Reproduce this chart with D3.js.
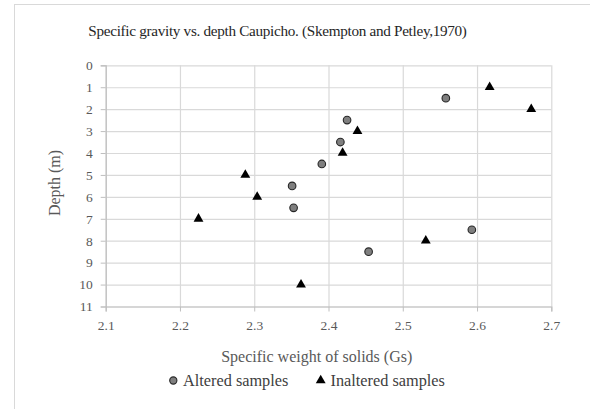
<!DOCTYPE html>
<html><head><meta charset="utf-8">
<script src="https://cdn.jsdelivr.net/npm/d3@7"></script>
<style>html,body{margin:0;padding:0;background:#fff;}svg{display:block;}</style>
</head><body>
<svg id="c" width="590" height="409"></svg>
<script>
const titleText = "Specific gravity vs. depth Caupicho. (Skempton and Petley,1970)";
const xTitle = "Specific weight of solids (Gs)";
const yTitle = "Depth (m)";
const seriesNames = ["Altered samples", "Inaltered samples"];
const xTicks = [2.1, 2.2, 2.3, 2.4, 2.5, 2.6, 2.7];
const yTicks = [0,1,2,3,4,5,6,7,8,9,10,11];
const alteredGs = [2.558, 2.425, 2.416, 2.391, 2.351, 2.353, 2.593, 2.454];
const alteredDepth = [1.5, 2.5, 3.5, 4.5, 5.5, 6.5, 7.5, 8.5];
const inalteredGs = [2.617, 2.673, 2.439, 2.419, 2.288, 2.304, 2.225, 2.531, 2.363];
const inalteredDepth = [1, 2, 3, 4, 5, 6, 7, 8, 10];

const svg = d3.select("#c");
const font = "Liberation Serif, DejaVu Serif, serif";
const L = 105.7, R = 551.3, T = 65.3, B = 306.5;
const x = d3.scaleLinear().domain([2.1, 2.7]).range([L, R]);
const y = d3.scaleLinear().domain([0, 11]).range([T, B]);

// outer border
svg.append("rect").attr("x", 14.5).attr("y", 4.5).attr("width", 600).attr("height", 420)
  .attr("fill", "#fff").attr("stroke", "#d9d9d9").attr("stroke-width", 1);

// title
svg.append("text").attr("x", 277.5).attr("y", 35.5).attr("text-anchor", "middle")
  .style("font-family", font).style("font-size", "15.2px").style("letter-spacing", "-0.3px")
  .style("fill", "#262626").text(titleText);

// gridlines
const gx = svg.append("g").attr("transform", `translate(0,${B})`)
  .call(d3.axisBottom(x).tickValues(xTicks).tickSize(-(B - T)).tickFormat(""));
gx.select(".domain").remove();
gx.selectAll("line").attr("stroke", "#d9d9d9").attr("stroke-width", 1.2);
const gy = svg.append("g").attr("transform", `translate(${L},0)`)
  .call(d3.axisLeft(y).tickValues(yTicks).tickSize(-(R - L)).tickFormat(""));
gy.select(".domain").remove();
gy.selectAll("line").attr("stroke", "#d9d9d9").attr("stroke-width", 1.2);

// axes
const ax = svg.append("g").attr("transform", `translate(0,${B})`)
  .call(d3.axisBottom(x).tickValues(xTicks).tickSize(5).tickPadding(9).tickFormat(d3.format(".1f")));
ax.select(".domain").attr("stroke", "#bfbfbf").attr("stroke-width", 1.2);
ax.selectAll(".tick line").attr("stroke", "#bfbfbf");
ax.selectAll(".tick text").style("font-family", font).style("font-size", "13.5px").style("fill", "#595959");

const ay = svg.append("g").attr("transform", `translate(${L},0)`)
  .call(d3.axisLeft(y).tickValues(yTicks).tickSize(5).tickPadding(8).tickFormat(d3.format("d")));
ay.select(".domain").attr("stroke", "#bfbfbf").attr("stroke-width", 1.2);
ay.selectAll(".tick line").attr("stroke", "#bfbfbf");
ay.selectAll(".tick text").style("font-family", font).style("font-size", "13.5px").style("fill", "#595959");

// axis titles
svg.append("text").attr("x", 316.7).attr("y", 362).attr("text-anchor", "middle")
  .style("font-family", font).style("font-size", "16px").style("fill", "#595959").text(xTitle);
svg.append("text").attr("transform", `translate(60,183) rotate(-90)`)
  .attr("text-anchor", "middle").style("font-family", font).style("font-size", "16px")
  .style("fill", "#595959").text(yTitle);

// data
const altered = alteredGs.map((v, i) => ({x: v, y: alteredDepth[i]}));
const inaltered = inalteredGs.map((v, i) => ({x: v, y: inalteredDepth[i]}));
const tri = d3.symbol().type(d3.symbolTriangle).size(42);

svg.append("g").selectAll("circle").data(altered).join("circle")
  .attr("cx", d => x(d.x)).attr("cy", d => y(d.y)).attr("r", 3.8)
  .attr("fill", "#7f7f7f").attr("stroke", "#262626").attr("stroke-width", 1.1);
svg.append("g").selectAll("path").data(inaltered).join("path")
  .attr("d", tri).attr("transform", d => `translate(${x(d.x)},${y(d.y)})`)
  .attr("fill", "#000");

// legend
const lg = svg.append("g");
lg.append("circle").attr("cx", 173.3).attr("cy", 380.5).attr("r", 3.6)
  .attr("fill", "#7f7f7f").attr("stroke", "#262626").attr("stroke-width", 1.1);
lg.append("text").attr("x", 183).attr("y", 385.5).style("font-family", font)
  .style("font-size", "16.3px").style("fill", "#404040").text(seriesNames[0]);
lg.append("path").attr("d", tri).attr("transform", "translate(320.7,380.5)").attr("fill", "#000");
lg.append("text").attr("x", 330.5).attr("y", 385.5).style("font-family", font)
  .style("font-size", "16.3px").style("fill", "#404040").text(seriesNames[1]);
</script>
</body></html>
